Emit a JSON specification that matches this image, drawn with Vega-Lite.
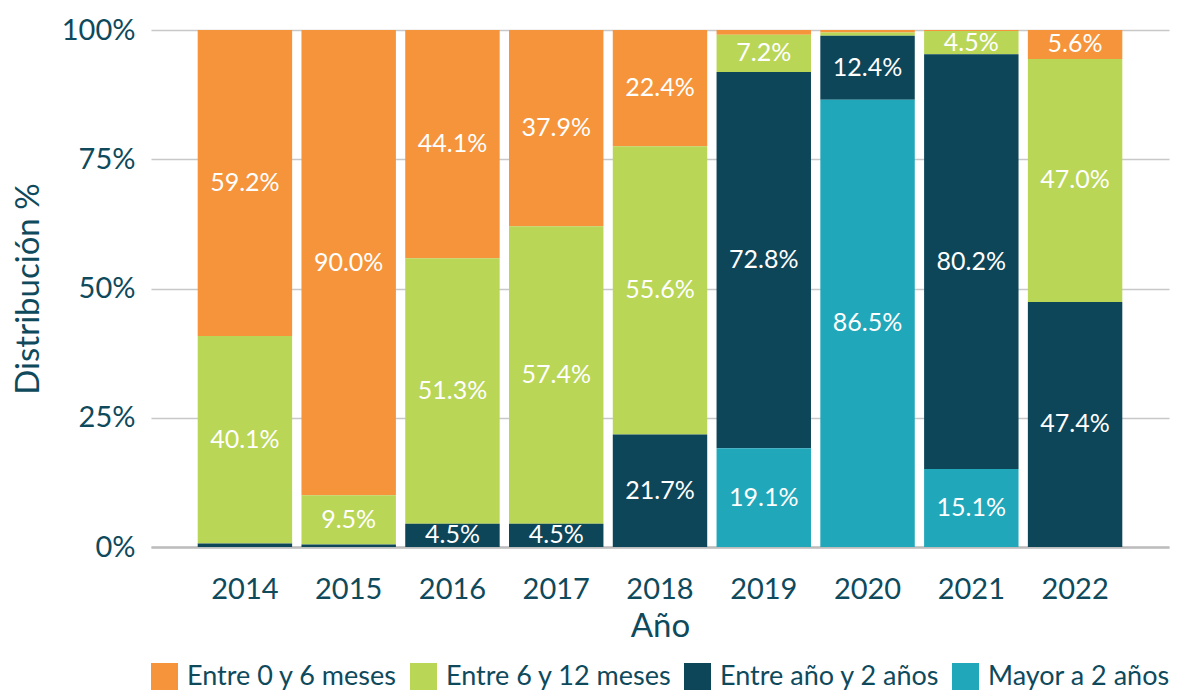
{
  "$schema": "https://vega.github.io/schema/vega-lite/v6.json",
  "width": 1177,
  "height": 690,
  "autosize": {"type": "fit", "contains": "padding"},
  "padding": {"left": 12, "right": 8, "top": 16, "bottom": 0},
  "background": "white",
  "config": {
    "font": "Lato",
    "view": {"stroke": null},
    "axis": {"labelColor": "#0e4a5c", "titleColor": "#0e4a5c", "labelFont": "Lato", "titleFont": "Lato", "titleFontWeight": "normal"}
  },
  "data": {
    "values": [
      {"anio": "2014", "cat": "Entre 0 y 6 meses", "ord": 4, "v": 59.2},
      {"anio": "2014", "cat": "Entre 6 y 12 meses", "ord": 3, "v": 40.1},
      {"anio": "2014", "cat": "Entre año y 2 años", "ord": 2, "v": 0.7},
      {"anio": "2015", "cat": "Entre 0 y 6 meses", "ord": 4, "v": 90.0},
      {"anio": "2015", "cat": "Entre 6 y 12 meses", "ord": 3, "v": 9.5},
      {"anio": "2015", "cat": "Entre año y 2 años", "ord": 2, "v": 0.5},
      {"anio": "2016", "cat": "Entre 0 y 6 meses", "ord": 4, "v": 44.1},
      {"anio": "2016", "cat": "Entre 6 y 12 meses", "ord": 3, "v": 51.3},
      {"anio": "2016", "cat": "Entre año y 2 años", "ord": 2, "v": 4.5},
      {"anio": "2017", "cat": "Entre 0 y 6 meses", "ord": 4, "v": 37.9},
      {"anio": "2017", "cat": "Entre 6 y 12 meses", "ord": 3, "v": 57.4},
      {"anio": "2017", "cat": "Entre año y 2 años", "ord": 2, "v": 4.5},
      {"anio": "2018", "cat": "Entre 0 y 6 meses", "ord": 4, "v": 22.4},
      {"anio": "2018", "cat": "Entre 6 y 12 meses", "ord": 3, "v": 55.6},
      {"anio": "2018", "cat": "Entre año y 2 años", "ord": 2, "v": 21.7},
      {"anio": "2019", "cat": "Entre 0 y 6 meses", "ord": 4, "v": 0.9},
      {"anio": "2019", "cat": "Entre 6 y 12 meses", "ord": 3, "v": 7.2},
      {"anio": "2019", "cat": "Entre año y 2 años", "ord": 2, "v": 72.8},
      {"anio": "2019", "cat": "Mayor a 2 años", "ord": 1, "v": 19.1},
      {"anio": "2020", "cat": "Entre 0 y 6 meses", "ord": 4, "v": 0.5},
      {"anio": "2020", "cat": "Entre 6 y 12 meses", "ord": 3, "v": 0.6},
      {"anio": "2020", "cat": "Entre año y 2 años", "ord": 2, "v": 12.4},
      {"anio": "2020", "cat": "Mayor a 2 años", "ord": 1, "v": 86.5},
      {"anio": "2021", "cat": "Entre 0 y 6 meses", "ord": 4, "v": 0.2},
      {"anio": "2021", "cat": "Entre 6 y 12 meses", "ord": 3, "v": 4.5},
      {"anio": "2021", "cat": "Entre año y 2 años", "ord": 2, "v": 80.2},
      {"anio": "2021", "cat": "Mayor a 2 años", "ord": 1, "v": 15.1},
      {"anio": "2022", "cat": "Entre 0 y 6 meses", "ord": 4, "v": 5.6},
      {"anio": "2022", "cat": "Entre 6 y 12 meses", "ord": 3, "v": 47.0},
      {"anio": "2022", "cat": "Entre año y 2 años", "ord": 2, "v": 47.4}
    ]
  },
  "transform": [
    {"stack": "v", "groupby": ["anio"], "sort": [{"field": "ord", "order": "ascending"}], "offset": "normalize", "as": ["y0", "y1"]},
    {"calculate": "(datum.y0 + datum.y1) / 2", "as": "ymid"},
    {"calculate": "format(datum.v, '.1f') + '%'", "as": "etiqueta"}
  ],
  "layer": [
    {
      "mark": {"type": "bar"},
      "encoding": {
        "x": {
          "field": "anio", "type": "nominal",
          "scale": {"paddingInner": 0.09, "paddingOuter": 0.45},
          "axis": {"title": "Año", "labelAngle": 0, "labelFontSize": 29, "titleFontSize": 33, "labelPadding": 28, "titlePadding": 6, "ticks": false, "domainColor": "#bdbdbd", "domainWidth": 2.5}
        },
        "y": {
          "field": "y0", "type": "quantitative",
          "scale": {"domain": [0, 1], "nice": false},
          "axis": {"title": "Distribución %", "format": ".0%", "values": [0, 0.25, 0.5, 0.75, 1], "labelFontSize": 29, "titleFontSize": 33, "labelPadding": 16, "titlePadding": 16, "ticks": false, "domain": false, "gridColor": "#c8c8c8", "gridWidth": 1.5}
        },
        "y2": {"field": "y1"},
        "color": {
          "field": "cat", "type": "nominal",
          "scale": {
            "domain": ["Entre 0 y 6 meses", "Entre 6 y 12 meses", "Entre año y 2 años", "Mayor a 2 años"],
            "range": ["#f5943a", "#b9d657", "#0d4559", "#21a7ba"]
          },
          "legend": {"orient": "bottom", "direction": "horizontal", "title": null, "symbolType": "square", "symbolSize": 729, "symbolStrokeWidth": 0, "labelFontSize": 27, "labelColor": "#0e4a5c", "labelFont": "Lato", "labelOffset": 9, "columnPadding": 12, "offset": 20, "labelLimit": 320}
        }
      }
    },
    {
      "transform": [{"filter": "datum.v >= 4"}],
      "mark": {"type": "text", "color": "white", "fontSize": 25, "baseline": "middle", "align": "center"},
      "encoding": {
        "x": {"field": "anio", "type": "nominal"},
        "y": {"field": "ymid", "type": "quantitative"},
        "text": {"field": "etiqueta"}
      }
    }
  ]
}
